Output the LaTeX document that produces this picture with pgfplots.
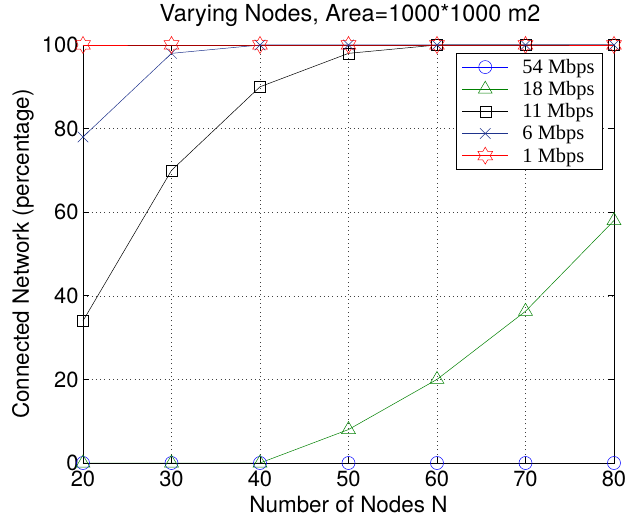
\documentclass[border=0pt]{standalone}
\usepackage{pgfplots}
\pgfplotsset{compat=1.18}
\usepackage{fontspec}
\setmainfont{TeX Gyre Heros}
\newfontfamily\legfont{Liberation Serif}
\definecolor{mblue}{rgb}{0,0,1}
\definecolor{mgreen}{rgb}{0,0.5,0}
\definecolor{mnavy}{rgb}{0.12,0.2,0.55}
\definecolor{mred}{rgb}{1,0,0}
\pgfdeclareplotmark{hexagram}{%
  \pgfpathmoveto{\pgfpointpolar{90}{\pgfplotmarksize}}%
  \pgfpathlineto{\pgfpointpolar{120}{0.57735\pgfplotmarksize}}%
  \pgfpathlineto{\pgfpointpolar{150}{\pgfplotmarksize}}%
  \pgfpathlineto{\pgfpointpolar{180}{0.57735\pgfplotmarksize}}%
  \pgfpathlineto{\pgfpointpolar{210}{\pgfplotmarksize}}%
  \pgfpathlineto{\pgfpointpolar{240}{0.57735\pgfplotmarksize}}%
  \pgfpathlineto{\pgfpointpolar{270}{\pgfplotmarksize}}%
  \pgfpathlineto{\pgfpointpolar{300}{0.57735\pgfplotmarksize}}%
  \pgfpathlineto{\pgfpointpolar{330}{\pgfplotmarksize}}%
  \pgfpathlineto{\pgfpointpolar{0}{0.57735\pgfplotmarksize}}%
  \pgfpathlineto{\pgfpointpolar{30}{\pgfplotmarksize}}%
  \pgfpathlineto{\pgfpointpolar{60}{0.57735\pgfplotmarksize}}%
  \pgfpathclose
  \pgfusepathqstroke
}
\begin{document}
\begin{tikzpicture}
\useasboundingbox (-83bp,-56bp) rectangle (546bp,463bp);
\begin{axis}[
  scale only axis,
  width=531bp, height=418bp,
  at={(0,0)}, anchor=south west,
  xmin=20, xmax=80, ymin=0, ymax=100,
  xtick={20,30,...,80}, ytick={0,20,...,100},
  tick align=inside, tick pos=both,
  major tick length=6bp,
  grid=major,
  major grid style={black!75, line width=0.5bp, dash pattern=on 0.8bp off 3.5bp},
  axis line style={black, line width=0.6bp},
  every tick/.style={black, line width=0.6bp},
  /pgf/number format/assume math mode=true,
  tick label style={font=\fontsize{22}{25}\selectfont},
  xticklabel style={yshift=-4bp},
  yticklabel style={xshift=-1bp},
  label style={font=\fontsize{22.5}{25}\selectfont},
  xlabel={Number of Nodes N},
  ylabel={Connected Network (percentage)},
  xlabel style={at={(axis description cs:0.5,-0.098)}, anchor=center},
  ylabel style={at={(axis description cs:-0.113,0.5)}, anchor=center},
  title={Varying Nodes, Area=1000*1000 m2},
  title style={font=\fontsize{23.5}{26}\selectfont, at={(axis description cs:0.503,1.057)}, anchor=center},
  legend cell align=left,
  legend style={at={(0.979,0.981)}, anchor=north east,
    font=\legfont\fontsize{20.5}{23}\selectfont,
    draw=black, line width=0.6bp, inner xsep=6bp, inner ysep=4bp,
    row sep=2.5bp},
  legend image code/.code={%
    \path (0bp,0bp) (58bp,0bp);
    \draw[mark repeat=2,mark phase=2] plot coordinates {(0bp,0bp) (23bp,0bp) (46bp,0bp)};},
  every axis plot/.append style={line width=0.5bp},
]
\addplot[mblue, mark=o, mark size=6.5bp] coordinates {(20,0) (30,0) (40,0) (50,0) (60,0) (70,0) (80,0)};
\addlegendentry{54 Mbps}
\addplot[mgreen, mark=triangle, mark size=8bp] coordinates {(20,0) (30,0) (40,0) (50,8) (60,20) (70,36.3) (80,58)};
\addlegendentry{18 Mbps}
\addplot[black, mark=square, mark size=5.5bp] coordinates {(20,34) (30,70) (40,90) (50,98) (60,100) (70,100) (80,100)};
\addlegendentry{11 Mbps}
\addplot[mnavy, mark=x, mark size=7.5bp] coordinates {(20,78) (30,98) (40,100) (50,100) (60,100) (70,100) (80,100)};
\addlegendentry{6 Mbps}
\addplot[mred, mark=hexagram, mark size=8.5bp] coordinates {(20,100) (30,100) (40,100) (50,100) (60,100) (70,100) (80,100)};
\addlegendentry{1 Mbps}
\end{axis}
\end{tikzpicture}
\end{document}
